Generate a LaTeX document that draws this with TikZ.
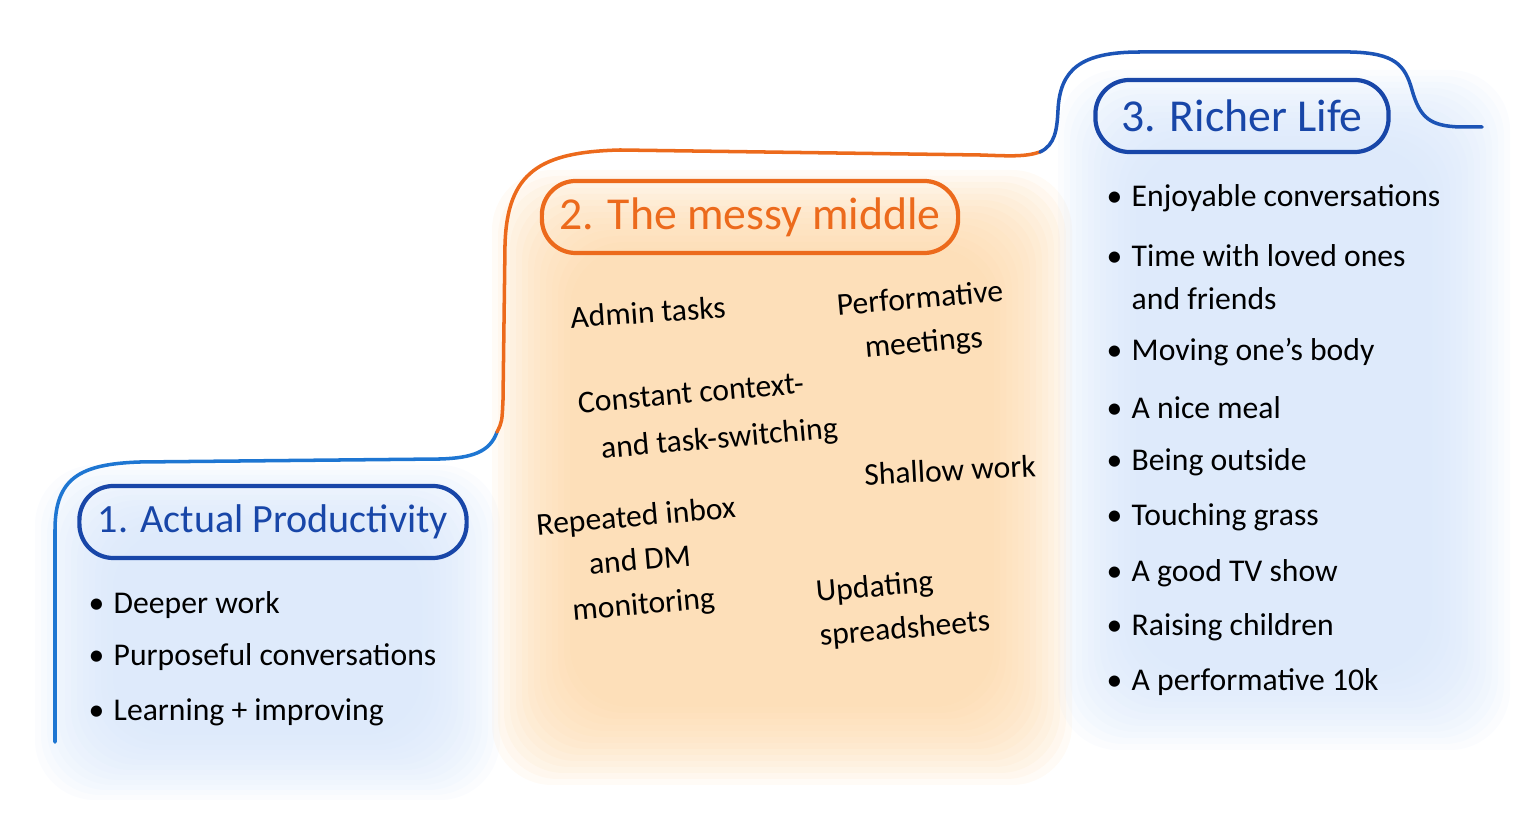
\documentclass[tikz,border=0pt]{standalone}
\usepackage{fontspec}
\setmainfont{Carlito}
\usetikzlibrary{positioning}

\definecolor{stepblue}{RGB}{30,118,210}
\definecolor{lifeblue}{RGB}{28,84,182}
\definecolor{titleblue}{RGB}{24,70,168}
\definecolor{messyorange}{RGB}{236,106,28}
\definecolor{glowblue}{RGB}{212,228,250}
\definecolor{gloworange}{RGB}{253,214,165}

\newcommand{\dotitem}{\makebox[0.25cm][l]{\textbullet}}

\begin{document}
\begin{tikzpicture}[
    x=0.01cm, y=-0.01cm,
    title/.style={draw, line width=1.2pt, rounded corners=0.34cm, minimum height=0.72cm, font=\fontsize{13}{15}\selectfont},
    bluetitle/.style={title, draw=titleblue, text=titleblue},
    orangetitle/.style={title, draw=messyorange, text=messyorange},
    item/.style={anchor=west, inner sep=0pt, align=left, font=\fontsize{9}{12.3}\selectfont},
    chore/.style={inner sep=0pt, font=\fontsize{9}{12.5}\selectfont},
    stair/.style={line width=1pt, line cap=round}
]
    \useasboundingbox (0,0) rectangle (1536,819);

    % Soft backgrounds
    \foreach \i in {0,...,13} {
        \fill[glowblue, opacity=0.1, rounded corners=0.6cm] (35+\i*6, 465+\i*5) rectangle (500-\i*6, 800-\i*5);
        \fill[gloworange, opacity=0.1, rounded corners=0.6cm] (492+\i*6, 170+\i*6) rectangle (1072-\i*6, 785-\i*6);
        \fill[glowblue, opacity=0.1, rounded corners=0.6cm] (1058+\i*6, 70+\i*6) rectangle (1510-\i*6, 750-\i*6);
    }

    % Stair outline
    \draw[stair, stepblue] (55,742) -- (55,530) .. controls (55,478) and (80,464) .. (140,462) -- (440,459) .. controls (472,458) and (490,452) .. (497,432);
    \draw[stair, messyorange] (497,432) .. controls (502,422) .. (503,400) -- (505,245) .. controls (507,172) and (540,152) .. (620,150) -- (980,155) .. controls (1010,156) and (1025,157) .. (1040,152);
    \draw[stair, lifeblue] (1040,152) .. controls (1055,145) and (1057,130) .. (1058,110) .. controls (1060,70) and (1080,52) .. (1140,52) -- (1350,52) .. controls (1395,53) and (1405,65) .. (1412,90) .. controls (1420,118) and (1430,126) .. (1460,127) -- (1482,127);

    % Titles
    \node[bluetitle, minimum width=3.87cm, font=\fontsize{11.4}{14}\selectfont] (prod) at (273,522) {1. Actual Productivity};
    \node[orangetitle, minimum width=4.16cm] (messy) at (750,217) {2. The messy middle};
    \node[bluetitle, minimum width=2.93cm] (richer) at (1242,116) {3. Richer Life};

    % 1. Actual Productivity
    \node[item] (deeper) at (88,605) {\dotitem Deeper work};
    \node[item] (purpose) at (88,657) {\dotitem Purposeful conversations};
    \node[item] (learn) at (88,712) {\dotitem Learning + improving};

    % 2. The messy middle
    \node[chore, rotate=4] (admin) at (648,312) {Admin tasks};
    \node[chore, rotate=5, align=center] (meetings) at (922,322) {Performative\\meetings};
    \node[chore, rotate=5, align=left, font=\fontsize{9}{13.5}\selectfont] (switching) at (708,418) {Constant context-\\\hspace{0.6em}and task-switching};
    \node[chore, rotate=3] (shallow) at (950,470) {Shallow work};
    \node[chore, rotate=5, align=center] (inbox) at (640,562) {Repeated inbox\\and DM\\monitoring};
    \node[chore, rotate=5, align=left] (sheets) at (903,608) {Updating\\spreadsheets};

    % 3. Richer Life
    \node[item] (talks) at (1106,198) {\dotitem Enjoyable conversations};
    \node[item] (loved) at (1106,277) {\dotitem Time with loved ones\\\hspace{0.25cm}and friends};
    \node[item] (body) at (1106,352) {\dotitem Moving one's body};
    \node[item] (meal) at (1106,408) {\dotitem A nice meal};
    \node[item] (outside) at (1106,462) {\dotitem Being outside};
    \node[item] (grass) at (1106,517) {\dotitem Touching grass};
    \node[item] (show) at (1106,573) {\dotitem A good TV show};
    \node[item] (kids) at (1106,627) {\dotitem Raising children};
    \node[item] (run) at (1106,682) {\dotitem A performative 10k};

\end{tikzpicture}
\end{document}
